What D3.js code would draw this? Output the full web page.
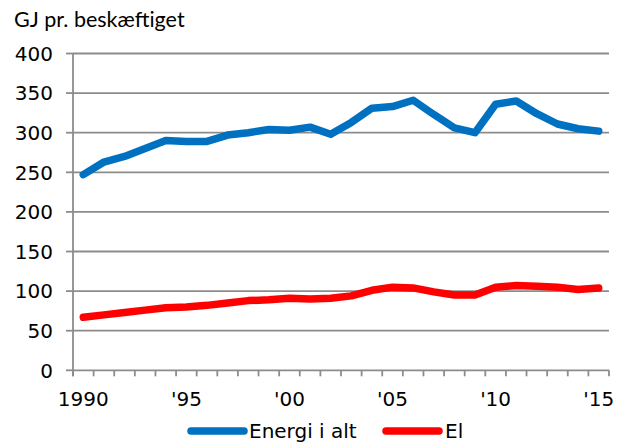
<!DOCTYPE html>
<html>
<head>
<meta charset="utf-8">
<script src="https://cdnjs.cloudflare.com/ajax/libs/d3/7.8.5/d3.min.js"></script>
<style>
  body { margin: 0; background: #fff; }
  svg { display: block; }
  .tick-label { font-family: 'DejaVu Sans', Verdana, sans-serif; font-size: 20px; fill: #000; }
</style>
</head>
<body>
<svg id="chart" width="628" height="448"></svg>
<script>
// data
var years = d3.range(1990, 2016)
var energi = [247, 263, 270, 280, 290, 289, 289, 297, 300, 304, 303, 307, 298, 313, 331, 333, 341, 323, 306, 300, 336, 340, 324, 311, 305, 302]
var el = [67, 70, 73, 76, 79, 80, 82, 85, 88, 89, 91, 90, 91, 94, 101, 105, 104, 99, 95, 95, 105, 107, 106, 105, 102, 104]
var yTicks = [0, 50, 100, 150, 200, 250, 300, 350, 400]
var xLabelYears = [1990, 1995, 2000, 2005, 2010, 2015]
var seriesNames = ['Energi i alt', 'El']
var colors = ['#0070C0', '#FF0000']

var svg = d3.select('#chart'),
  plotLeft = 73, plotRight = 609, plotTop = 53.5, plotBottom = 370.3

var x = d3.scaleBand().domain(years).range([plotLeft, plotRight]).padding(0)
var y = d3.scaleLinear().domain([0, 400]).range([plotBottom, plotTop])

var xLabel = function(yr) {
  return yr === 1990 ? '1990' : "'" + String(yr).slice(2)
}

// gridlines
svg.append('g').selectAll('line')
  .data(yTicks.filter(function(d) { return d > 0 }))
  .enter().append('line')
  .attr('x1', plotLeft).attr('x2', plotRight)
  .attr('y1', function(d) { return y(d) }).attr('y2', function(d) { return y(d) })
  .attr('stroke', '#8c8c8c').attr('stroke-width', 1.8)

// y axis
var yAxis = svg.append('g')
yAxis.append('line').attr('x1', plotLeft).attr('x2', plotLeft).attr('y1', plotTop).attr('y2', plotBottom + 6)
  .attr('stroke', '#8c8c8c').attr('stroke-width', 1.8)
yAxis.selectAll('.yt').data(yTicks).enter().append('line')
  .attr('class', 'yt')
  .attr('x1', plotLeft - 7).attr('x2', plotLeft)
  .attr('y1', function(d) { return y(d) }).attr('y2', function(d) { return y(d) })
  .attr('stroke', '#8c8c8c').attr('stroke-width', 1.8)
yAxis.selectAll('text').data(yTicks).enter().append('text')
  .attr('class', 'tick-label')
  .attr('x', 53)
  .attr('y', function(d) { return y(d) })
  .attr('dy', '0.36em')
  .attr('text-anchor', 'end')
  .text(function(d) { return d })

// x axis, ticks between categories
var xAxis = svg.append('g')
xAxis.append('line').attr('x1', plotLeft).attr('x2', plotRight).attr('y1', plotBottom).attr('y2', plotBottom)
  .attr('stroke', '#8c8c8c').attr('stroke-width', 1.8)
var bounds = years.map(function(d) { return x(d) }).concat([x(years[years.length - 1]) + x.bandwidth()])
xAxis.selectAll('.xt').data(bounds).enter().append('line')
  .attr('class', 'xt')
  .attr('x1', function(d) { return d }).attr('x2', function(d) { return d })
  .attr('y1', plotBottom).attr('y2', plotBottom + 6)
  .attr('stroke', '#8c8c8c').attr('stroke-width', 1.8)
xAxis.selectAll('text').data(xLabelYears).enter().append('text')
  .attr('class', 'tick-label')
  .attr('x', function(d) { return x(d) + x.bandwidth() / 2 })
  .attr('y', 406)
  .attr('text-anchor', 'middle')
  .text(xLabel)

// lines
var line = d3.line()
  .x(function(d, i) { return x(years[i]) + x.bandwidth() / 2 })
  .y(function(d) { return y(d) })

;[energi, el].forEach(function(s, k) {
  svg.append('path')
    .attr('d', line(s))
    .attr('fill', 'none')
    .attr('stroke', colors[k])
    .attr('stroke-width', 7.5)
    .attr('stroke-linejoin', 'round')
    .attr('stroke-linecap', 'round')
})

// title
svg.append('text')
  .attr('x', 14).attr('y', 27)
  .style('font-family', 'Lato, "Open Sans", sans-serif')
  .style('font-size', '21.5px')
  .text('GJ pr. besk\u00e6ftiget')

// legend
var legendPos = [{ x1: 191, x2: 244, tx: 249 }, { x1: 386, x2: 439, tx: 445 }]
var legend = svg.append('g')
seriesNames.forEach(function(name, k) {
  var p = legendPos[k]
  legend.append('line')
    .attr('x1', p.x1).attr('x2', p.x2).attr('y1', 431).attr('y2', 431)
    .attr('stroke', colors[k]).attr('stroke-width', 7.5).attr('stroke-linecap', 'round')
  legend.append('text')
    .attr('class', 'tick-label')
    .attr('x', p.tx).attr('y', 431).attr('dy', '0.36em')
    .text(name)
})
</script>
</body>
</html>
